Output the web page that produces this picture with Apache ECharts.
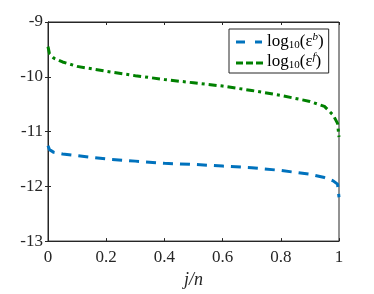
<!DOCTYPE html>
<html><head><meta charset="utf-8">
<script src="https://cdn.jsdelivr.net/npm/echarts@6/dist/echarts.min.js"></script>
<style>html,body{margin:0;padding:0;background:#fff}#c{width:374px;height:294px}</style>
</head><body><div id="c"></div>
<script>
const xs = [0, 0.005, 0.02, 0.05, 0.1, 0.2, 0.3, 0.4, 0.5, 0.6, 0.7, 0.8, 0.9, 0.95, 0.98, 0.995, 1.0];
const epsB = [-11.26, -11.33, -11.38, -11.41, -11.44, -11.50, -11.54, -11.58, -11.60, -11.63, -11.66, -11.71, -11.78, -11.84, -11.90, -11.96, -12.2];
const epsF = [-9.45, -9.58, -9.66, -9.73, -9.81, -9.90, -9.98, -10.05, -10.11, -10.17, -10.25, -10.34, -10.45, -10.54, -10.70, -10.85, -11.1];
const xTicks = [0, 0.2, 0.4, 0.6, 0.8, 1];
const yTicks = [-13, -12, -11, -10, -9];
const seriesNames = ['b', 'f'];

const serif = '"Liberation Serif", "Times New Roman", serif';
const chart = echarts.init(document.getElementById('c'));
const axisColor = '#262626';
const blue = '#0072BD', green = '#008000';
const pair = (ys) => xs.map((x, i) => [x, ys[i]]);
const blueDash = [10, 7];
const greenDash = [8, 4, 3, 4];
// legend line samples (decorative, not data)
const dash = (x, y, w, c) => ({type: 'rect', z: 100, shape: {x: x, y: y - 1.5, width: w, height: 3}, style: {fill: c}});
chart.setOption({
  animation: false,
  grid: {left: 48, right: 35, top: 22, bottom: 52, show: true, borderColor: axisColor, borderWidth: 1},
  xAxis: [{
    type: 'value', min: 0, max: 1, interval: 0.2,
    axisLine: {show: true, lineStyle: {color: axisColor}},
    axisTick: {inside: true, length: 3, lineStyle: {color: axisColor}},
    axisLabel: {color: axisColor, fontFamily: serif, fontSize: 17, margin: 8,
      formatter: v => String(Math.round(v * 10) / 10)},
    splitLine: {show: false},
    name: 'j/n', nameLocation: 'middle', nameGap: 29,
    nameTextStyle: {color: axisColor, fontFamily: serif, fontSize: 18, fontStyle: 'italic'}
  }, {
    type: 'value', min: 0, max: 1, interval: 0.2, position: 'top',
    axisLine: {show: true, lineStyle: {color: axisColor}},
    axisTick: {inside: true, length: 3, lineStyle: {color: axisColor}},
    axisLabel: {show: false}, splitLine: {show: false}
  }],
  yAxis: [{
    type: 'value', min: -13, max: -9, interval: 1,
    axisLine: {show: true, lineStyle: {color: axisColor}},
    axisTick: {inside: true, length: 3, lineStyle: {color: axisColor}},
    axisLabel: {color: axisColor, fontFamily: serif, fontSize: 17, margin: 5},
    splitLine: {show: false}
  }, {
    type: 'value', min: -13, max: -9, interval: 1, position: 'right',
    axisLine: {show: true, lineStyle: {color: axisColor}},
    axisTick: {inside: true, length: 3, lineStyle: {color: axisColor}},
    axisLabel: {show: false}, splitLine: {show: false}
  }],
  legend: {
    left: 229, top: 29, orient: 'vertical', z: 50,
    borderColor: axisColor, borderWidth: 1, backgroundColor: '#fff', borderRadius: 0,
    padding: [2, 5, 2, 5], itemGap: 0, itemWidth: 28, itemHeight: 21,
    data: [{name: 'b', icon: 'none'}, {name: 'f', icon: 'none'}],
    formatter: n => '{t|log}{s|10}{t|(ε}{p|' + n + '}{t|)}',
    textStyle: {
      color: '#000', fontFamily: serif, fontSize: 17,
      rich: {
        t: {fontFamily: serif, fontSize: 17, color: '#000'},
        s: {fontFamily: serif, fontSize: 11, color: '#000', padding: [8, 0, 0, 0]},
        p: {fontFamily: serif, fontSize: 11, color: '#000', fontStyle: 'italic', padding: [0, 0, 9, 0]}
      }
    }
  },
  graphic: [
    dash(236, 42, 9, blue), dash(255, 42, 7, blue),
    dash(236, 63, 7, green), dash(246, 63, 7, green), dash(256, 63, 7, green)
  ],
  series: [{
    name: 'b', type: 'line', data: pair(epsB), showSymbol: false, symbol: 'none',
    lineStyle: {color: blue, width: 3, type: blueDash},
    itemStyle: {color: blue}
  }, {
    name: 'f', type: 'line', data: pair(epsF), showSymbol: false, symbol: 'none',
    lineStyle: {color: green, width: 3, type: greenDash},
    itemStyle: {color: green}
  }]
});
</script></body></html>
